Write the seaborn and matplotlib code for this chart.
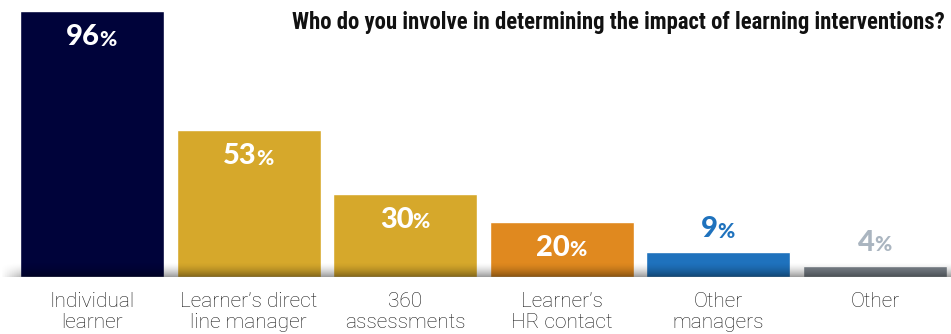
import numpy as np
import pandas as pd
import matplotlib
matplotlib.use("Agg")
import matplotlib.pyplot as plt
import seaborn as sns

categories = ["Individual\nlearner", "Learner\u2019s direct\nline manager", "360\nassessments",
              "Learner\u2019s\nHR contact", "Other\nmanagers", "Other"]
values = [96, 53, 30, 20, 9, 4]
bar_colors = ["#00033A", "#D6A82B", "#D6A82B", "#E0891F", "#1F72BD", "#7B838B"]
label_colors = ["white", "white", "white", "white", "#1F72BD", "#AAB5C0"]
label_inside = [True, True, True, True, False, False]
title = "Who do you involve in determining the impact of learning interventions?"

df = pd.DataFrame({"category": categories, "value": values})

sns.set_theme(style="white")
plt.rcParams["font.family"] = ["Lato", "DejaVu Sans"]

W, H, DPI = 951, 334, 100
fig = plt.figure(figsize=(W / DPI, H / DPI), dpi=DPI)
base_px = 277
ax = fig.add_axes([13.7 / W, (H - base_px) / H, 939.6 / W, base_px / H])

sns.barplot(data=df, x="category", y="value", hue="category", palette=bar_colors,
            legend=False, width=0.92, saturation=1, ax=ax)
ax.set_xlim(-0.5, len(categories) - 0.5)
ax.set_ylim(0, 100)
ax.set_axis_off()

# category names below the baseline
for i, cat in enumerate(categories):
    ax.text(i, -5.3, cat, ha="center", va="top", fontsize=15, fontweight="light",
            color="#1a1a1a", linespacing=1.15, clip_on=False,
            family=["Roboto", "Lato", "DejaVu Sans"])

# soft shadow along the baseline
grad = np.linspace(0, 1, 64) ** 1.6
xfade = np.clip(np.linspace(0, 1, 400) / 0.03, 0, 1)
alpha = grad[:, None] * xfade[None, :] * 0.4
rgba = np.zeros((64, 400, 4))
rgba[..., 3] = alpha
shadow_ax = fig.add_axes([0, (H - base_px) / H, 1, 15 / H])
shadow_ax.imshow(rgba, aspect="auto", origin="upper", extent=[0, 1, 0, 1])
shadow_ax.set_axis_off()
shadow_ax.set_zorder(ax.get_zorder() + 1)

# value labels: bold number with a smaller percent sign
fig.canvas.draw()
renderer = fig.canvas.get_renderer()
px_per_unit = base_px / 100.0
for i, (v, col, inside) in enumerate(zip(values, label_colors, label_inside)):
    y = v - 26 / px_per_unit if inside else v + 23 / px_per_unit
    num = ax.text(i, y, str(v), ha="right", va="center", fontsize=21, fontweight="black",
                  color=col, zorder=5)
    pct = ax.text(i, y, "%", ha="left", va="center", fontsize=15, fontweight="black",
                  color=col, zorder=5)
    wn = num.get_window_extent(renderer).width
    wp = pct.get_window_extent(renderer).width
    shift = (wn - wp) / 2.0
    xdata = ax.transData.inverted().transform(
        (ax.transData.transform((i, y))[0] + shift, 0))[0]
    num.set_x(xdata)
    pct.set_x(xdata - 1.0 / 156.6)
    # align percent sign baseline with digits
    pct.set_y(y - 2.0 / px_per_unit)

fig.text(945 / W, 1 - 22 / H, title, ha="right", va="center", fontsize=16.4,
         fontweight="bold", color="#111111", family=["Roboto Condensed", "Lato", "DejaVu Sans"])

fig.savefig("out.png", dpi=DPI)
